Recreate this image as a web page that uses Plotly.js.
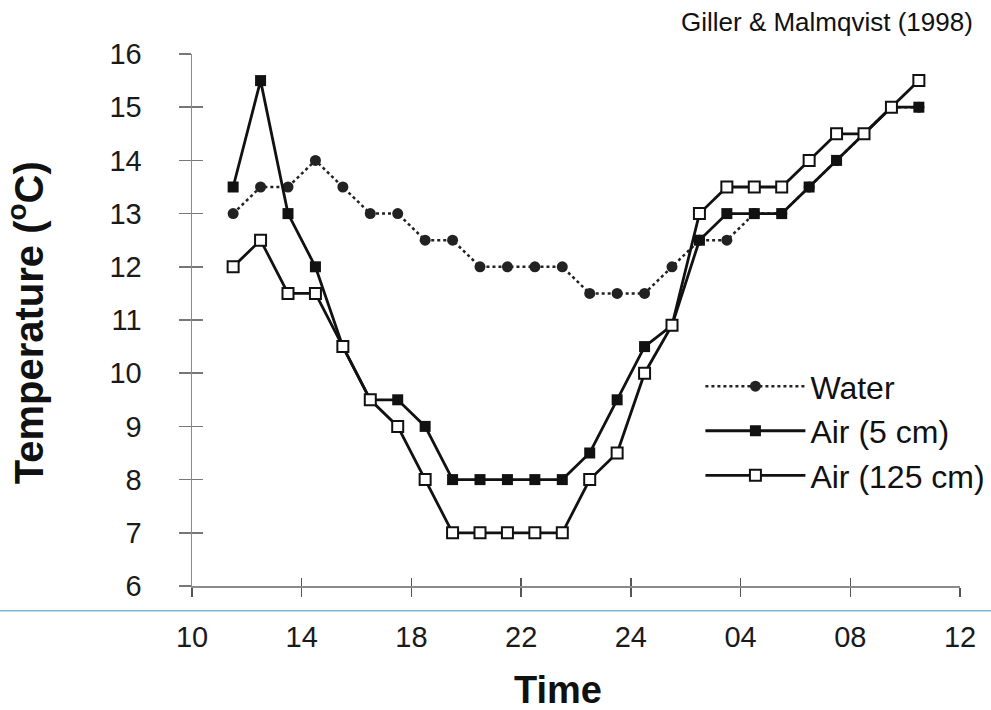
<!DOCTYPE html>
<html>
<head>
<meta charset="utf-8">
<script src="https://cdn.plot.ly/plotly-3.0.1.min.js"></script>
<style>html,body{margin:0;padding:0;background:#fff;}#chart{width:991px;height:710px;}</style>
</head>
<body>
<div id="chart"></div>
<script>
// Time positions (hours after the first axis tick) of the hourly readings
const hours = [1.5, 2.5, 3.5, 4.5, 5.5, 6.5, 7.5, 8.5, 9.5, 10.5, 11.5, 12.5, 13.5,
               14.5, 15.5, 16.5, 17.5, 18.5, 19.5, 20.5, 21.5, 22.5, 23.5, 24.5, 25.5, 26.5];
const tickPositions = [0, 4, 8, 12, 16, 20, 24, 28];
const tickLabels = ['10', '14', '18', '22', '24', '04', '08', '12'];
const yTicks = [6, 7, 8, 9, 10, 11, 12, 13, 14, 15, 16];

const water  = [13.0, 13.5, 13.5, 14.0, 13.5, 13.0, 13.0, 12.5, 12.5, 12.0, 12.0, 12.0, 12.0,
                11.5, 11.5, 11.5, 12.0, 12.5, 12.5, 13.0, 13.0, 13.5, 14.0, 14.5, 15.0, 15.0];
const air5   = [13.5, 15.5, 13.0, 12.0, 10.5, 9.5, 9.5, 9.0, 8.0, 8.0, 8.0, 8.0, 8.0,
                8.5, 9.5, 10.5, 10.9, 12.5, 13.0, 13.0, 13.0, 13.5, 14.0, 14.5, 15.0, 15.0];
const air125 = [12.0, 12.5, 11.5, 11.5, 10.5, 9.5, 9.0, 8.0, 7.0, 7.0, 7.0, 7.0, 7.0,
                8.0, 8.5, 10.0, 10.9, 13.0, 13.5, 13.5, 13.5, 14.0, 14.5, 14.5, 15.0, 15.5];

const seriesNames = ['Water', 'Air (5 cm)', 'Air (125 cm)'];
const ink = '#111111';
const FONT = 'Liberation Sans, Arial, sans-serif';

const traces = [
  {x: hours, y: water, name: seriesNames[0], type: 'scatter', mode: 'lines+markers',
   legendgroup: 'a',
   line: {color: '#222', width: 2.5, dash: 'dot'},
   marker: {symbol: 'circle', size: 11, color: '#222'}},
  {x: hours, y: air5, name: seriesNames[1], type: 'scatter', mode: 'lines+markers',
   legendgroup: 'b',
   line: {color: ink, width: 2.8},
   marker: {symbol: 'square', size: 11, color: ink}},
  {x: hours, y: air125, name: seriesNames[2], type: 'scatter', mode: 'lines+markers',
   legendgroup: 'c',
   line: {color: ink, width: 2.8},
   marker: {symbol: 'square', size: 11, color: '#fff', line: {color: ink, width: 2}}},
  // invisible helper on overlay axes to draw the inner half of crossing ticks
  {x: [hours[0]], y: [water[0]], xaxis: 'x2', yaxis: 'y2', showlegend: false,
   mode: 'markers', marker: {opacity: 0}, hoverinfo: 'skip'}
];

const axisGray = '#8a8a8a';
const layout = {
  width: 991, height: 710,
  paper_bgcolor: '#fff', plot_bgcolor: '#fff',
  margin: {l: 192, r: 31, t: 54, b: 124, autoexpand: false},
  font: {family: FONT, color: '#1a1a1a'},
  showlegend: true,
  legend: {
    x: 0.662, y: 0.427, xanchor: 'left', yanchor: 'top',
    font: {family: FONT, size: 32, color: '#111'},
    itemwidth: 100, traceorder: 'grouped', tracegroupgap: 0,
    bgcolor: 'rgba(0,0,0,0)', borderwidth: 0
  },
  xaxis: {
    range: [0, 28], tickmode: 'array', tickvals: tickPositions, ticktext: tickLabels,
    showgrid: false, zeroline: false, showline: true, linecolor: axisGray, linewidth: 1.5,
    ticks: 'outside', ticklen: 9, tickwidth: 1.5, tickcolor: '#555',
    tickfont: {family: FONT, size: 29, color: '#1a1a1a'}, ticklabelstandoff: 16,
    fixedrange: true
  },
  yaxis: {
    range: [6, 16], tickmode: 'array', tickvals: yTicks,
    showgrid: false, zeroline: false, showline: true, linecolor: axisGray, linewidth: 1.5,
    ticks: 'outside', ticklen: 12, tickwidth: 1.5, tickcolor: '#777',
    tickfont: {family: FONT, size: 29, color: '#1a1a1a'}, ticklabelstandoff: 31,
    fixedrange: true
  },
  xaxis2: {
    overlaying: 'x', range: [0, 28], tickmode: 'array', tickvals: tickPositions,
    showticklabels: false, showgrid: false, zeroline: false, showline: false,
    ticks: 'inside', ticklen: 8, tickwidth: 1.5, tickcolor: '#555', side: 'bottom', anchor: 'y2'
  },
  yaxis2: {
    overlaying: 'y', range: [6, 16], tickmode: 'array', tickvals: yTicks,
    showticklabels: false, showgrid: false, zeroline: false, showline: false,
    ticks: 'inside', ticklen: 11, tickwidth: 1.5, tickcolor: '#777', side: 'left', anchor: 'x2'
  },
  shapes: [
    {type: 'line', xref: 'paper', yref: 'paper', x0: -0.26, x1: 1.05, y0: -0.0464, y1: -0.0464,
     line: {color: '#7fb3d3', width: 1.5}}
  ],
  annotations: [
    {text: 'Time', xref: 'paper', yref: 'paper', x: 0.477, y: -0.196, xanchor: 'center', yanchor: 'middle',
     showarrow: false, font: {family: FONT, size: 38, color: '#111', weight: 'bold'}},
    {text: 'Temperature (<sup>o</sup>C)', xref: 'paper', yref: 'paper', x: -0.216, y: 0.494,
     xanchor: 'center', yanchor: 'middle', textangle: -90,
     showarrow: false, font: {family: FONT, size: 40, color: '#111', weight: 'bold'}},
    {text: 'Giller &amp; Malmqvist (1998)', xref: 'paper', yref: 'paper', x: 1.02, y: 1.06,
     xanchor: 'right', yanchor: 'middle', showarrow: false,
     font: {family: FONT, size: 26, color: '#111'}}
  ]
};

Plotly.newPlot('chart', traces, layout, {staticPlot: true, displayModeBar: false});
</script>
</body>
</html>
